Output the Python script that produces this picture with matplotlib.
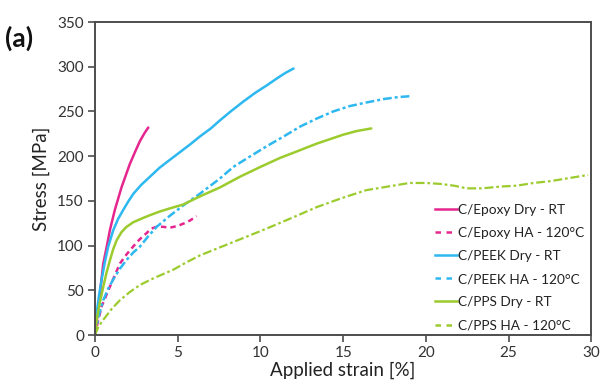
import matplotlib
matplotlib.use("Agg")
import matplotlib.pyplot as plt
from matplotlib.lines import Line2D

plt.rcParams['font.family'] = ['Lato', 'DejaVu Sans']

# Data (strain %, stress MPa)
epoxy_dry_x = [0, 0.1, 0.2, 0.35, 0.5, 0.7, 0.91, 1.2, 1.6, 2.1, 2.45, 2.72, 3.0, 3.22]
epoxy_dry_y = [0, 14, 30, 55, 80, 98, 118, 140, 165, 191, 206, 217, 226, 232]

epoxy_ha_x = [0, 0.1, 0.4, 0.9, 1.2, 1.51, 1.9, 2.31, 2.7, 3.12, 3.4, 3.73, 4.1, 4.53, 5.0, 5.4, 5.74, 6.14]
epoxy_ha_y = [0, 9, 32, 54, 67, 80, 90, 99, 107, 114, 119, 121, 121, 120, 122, 125, 128, 133]

peek_dry_x = [0, 0.1, 0.25, 0.4, 0.6, 0.8, 1.1, 1.4, 1.71, 2.0, 2.32, 2.8, 3.32, 3.9, 4.53, 5.1,
              5.74, 6.34, 7.0, 7.55, 8.2, 8.96, 9.7, 10.37, 11.0, 11.5, 12.0]
peek_dry_y = [0, 25, 45, 62, 82, 99, 117, 130, 140, 149, 158, 168, 177, 187, 196, 204,
              213, 222, 231, 240, 250, 261, 271, 279, 287, 293, 298]

peek_ha_x = [0, 0.2, 0.5, 0.8, 1.1, 1.5, 1.91, 2.3, 2.72, 3.2, 3.73, 4.5, 5.34, 6.34, 7.55, 8.36,
             9.4, 10.37, 11.4, 12.39, 13.4, 14.4, 15.4, 16.4, 17.5, 18.3, 19.0]
peek_ha_y = [0, 20, 39, 52, 62, 74, 84, 92, 99, 110, 121, 133, 145, 158, 175, 188,
             200, 211, 222, 233, 242, 250, 256, 260, 264, 266, 267]

pps_dry_x = [0, 0.1, 0.3, 0.5, 0.7, 0.91, 1.1, 1.31, 1.6, 1.91, 2.3, 2.92, 3.32, 3.9, 4.6, 5.34,
             6.34, 7.55, 8.76, 10.0, 11.18, 12.3, 13.4, 14.2, 15.0, 15.8, 16.7]
pps_dry_y = [0, 17, 37, 54, 70, 84, 96, 106, 115, 121, 126, 131, 134, 138, 142, 146,
             155, 165, 177, 188, 198, 206, 214, 219, 224, 228, 231]

pps_ha_x = [0, 0.2, 0.5, 1.0, 1.51, 2.1, 2.72, 3.6, 4.73, 5.5, 6.34, 7.55, 8.9, 10.37, 11.9,
            13.4, 14.9, 16.4, 17.7, 19.0, 20.0, 20.85, 21.7, 22.45, 23.4, 24.5, 25.5, 26.5,
            27.5, 28.5, 29.8]
pps_ha_y = [0, 9, 17, 29, 39, 48, 56, 64, 73, 81, 89, 98, 108, 119, 131,
            143, 153, 162, 166, 170, 170, 169, 167, 164, 164, 166, 167, 170,
            172, 175, 179]

labels = ["C/Epoxy Dry - RT", "C/Epoxy HA - 120°C", "C/PEEK Dry - RT",
          "C/PEEK HA - 120°C", "C/PPS Dry - RT", "C/PPS HA - 120°C"]

MAG = '#E5268F'
CYA = '#2DB8F0'
GRN = '#9CCB2E'

fig = plt.figure(figsize=(6.09, 3.89), dpi=100)
ax = fig.add_axes([0.156, 0.1388, 0.815, 0.8046])

lw = 1.8
ax.plot(epoxy_dry_x, epoxy_dry_y, color=MAG, lw=lw, solid_capstyle='round', solid_joinstyle='round')
ax.plot(epoxy_ha_x, epoxy_ha_y, color=MAG, lw=lw, dashes=(2.2, 1.6))
ax.plot(peek_dry_x, peek_dry_y, color=CYA, lw=lw, solid_capstyle='round', solid_joinstyle='round')
ax.plot(peek_ha_x, peek_ha_y, color=CYA, lw=lw, dashes=(3.5, 1.2, 1.2, 1.2))
ax.plot(pps_dry_x, pps_dry_y, color=GRN, lw=lw, solid_capstyle='round', solid_joinstyle='round')
ax.plot(pps_ha_x, pps_ha_y, color=GRN, lw=1.6, dashes=(4.0, 1.3, 1.2, 1.3))

ax.set_xlim(0, 30)
ax.set_ylim(0, 350)
ax.set_xticks(range(0, 31, 5))
ax.set_yticks(range(0, 351, 50))
for s in ax.spines.values():
    s.set_color('#4d4d4d')
    s.set_linewidth(1.4)
ax.tick_params(direction='out', length=5, width=1.2, color='#4d4d4d',
               labelsize=11, labelcolor='#333333', pad=3)
ax.set_xlabel("Applied strain [%]", fontsize=13.5, color='#222222', labelpad=1)
ax.set_ylabel("Stress [MPa]", fontsize=13.5, color='#222222', labelpad=5)

handles = [
    Line2D([], [], color=MAG, lw=1.8),
    Line2D([], [], color=MAG, lw=1.8, dashes=(2.2, 2.2)),
    Line2D([], [], color=CYA, lw=1.8),
    Line2D([], [], color=CYA, lw=1.8, dashes=(2.2, 2.2)),
    Line2D([], [], color=GRN, lw=1.8),
    Line2D([], [], color=GRN, lw=1.8, dashes=(2.2, 2.2)),
]
leg = ax.legend(handles, labels, loc='lower right', frameon=False,
                fontsize=9.8, handlelength=1.6, handletextpad=0.1,
                labelspacing=0.82, bbox_to_anchor=(1.0, -0.01),
                borderaxespad=0.1)
for t in leg.get_texts():
    t.set_color('#222222')

fig.text(0.008, 0.902, "(a)", fontsize=19, fontweight='bold', color='#111111', va='center')

fig.savefig("out.png", dpi=100)
